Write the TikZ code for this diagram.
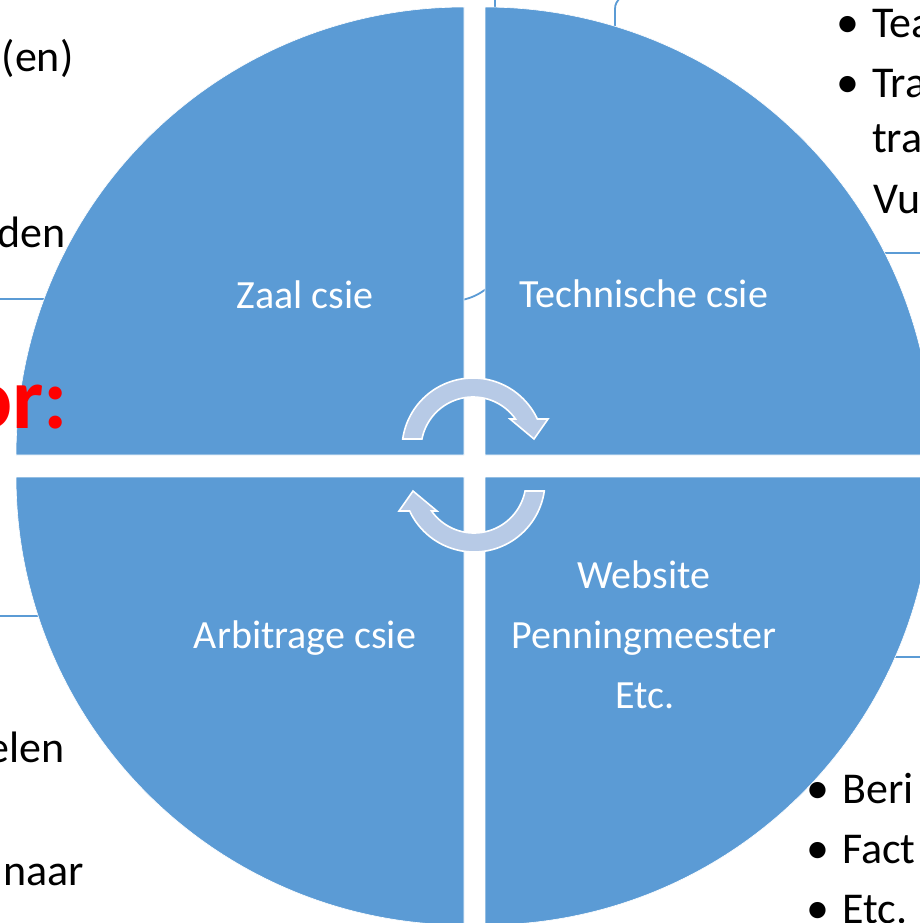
\documentclass[tikz,border=0pt]{standalone}
\usepackage{fontspec}
\setmainfont{Carlito}
\definecolor{quad}{HTML}{5B9BD5}
\definecolor{arrowfill}{HTML}{B7CAE6}
\tikzset{
  quadrant/.style={fill=quad, draw=white, line width=0.6pt},
  bgline/.style={draw=quad, line width=1.8pt},
  cycarrow/.style={fill=arrowfill, draw=white, line width=1.6pt, line join=miter},
  lbl/.style={text=white, font=\fontsize{40}{48}\selectfont, inner sep=0pt, anchor=base},
  txt/.style={text=black, font=\fontsize{44}{53}\selectfont, inner sep=0pt, anchor=base west},
  bul/.style={text=black, font=\fontsize{46}{53}\selectfont, inner sep=0pt, anchor=base},
  redtxt/.style={text=red, font=\fontsize{88}{100}\selectfont\bfseries, inner sep=0pt, anchor=base west}
}
\begin{document}
\begin{tikzpicture}[x=1pt,y=-1pt]
\useasboundingbox (0,0) rectangle (920,923);
\clip (0,0) rectangle (920,923);
\fill[white] (0,0) rectangle (920,923);

% background connector remnants
\coordinate (l1a) at (-5,299); \coordinate (l1b) at (60,299);
\coordinate (l2a) at (-5,616); \coordinate (l2b) at (60,616);
\coordinate (r1a) at (860,253); \coordinate (r1b) at (925,253);
\coordinate (r2a) at (870,657); \coordinate (r2b) at (925,657);
\draw[bgline] (l1a) -- (l1b);
\draw[bgline] (l2a) -- (l2b);
\draw[bgline] (r1a) -- (r1b);
\draw[bgline] (r2a) -- (r2b);
\draw[bgline] (615,40) -- (615,9) .. controls (615,4) and (617,1) .. (621,-3);
\draw[bgline] (495,-3) -- (495,12);
\draw[bgline] (462,300) .. controls (471,298) and (478,295) .. (486,289);

% quadrants
\path[quadrant] (464,455) -- plot[domain=180:270,samples=90] ({464+448*cos(\x)},{455+448*sin(\x)}) -- cycle;
\path[quadrant] (485,455) -- plot[domain=270:360,samples=90] ({485+448*cos(\x)},{455+448*sin(\x)}) -- cycle;
\path[quadrant] (485,477) -- plot[domain=0:90,samples=90] ({485+448*cos(\x)},{477+448*sin(\x)}) -- cycle;
\path[quadrant] (464,477) -- plot[domain=90:180,samples=90] ({464+448*cos(\x)},{477+448*sin(\x)}) -- cycle;

% circular arrows
\path[cycarrow] plot[domain=188.1:335,samples=60] ({473+71*cos(\x)},{449+71*sin(\x)})
  -- (548,419) -- (534,439) -- (510,419)
  -- plot[domain=324.8:191.1,samples=60] ({473+52*cos(\x)},{449+52*sin(\x)}) -- cycle;
\path[cycarrow, rotate around={180:(473.5,465)}] plot[domain=188.1:335,samples=60] ({473+71*cos(\x)},{449+71*sin(\x)})
  -- (548,419) -- (534,439) -- (510,419)
  -- plot[domain=324.8:191.1,samples=60] ({473+52*cos(\x)},{449+52*sin(\x)}) -- cycle;

% quadrant labels
\node[lbl] (zaal) at (305,308) {Zaal csie};
\node[lbl] (tech) at (644,307) {Technische csie};
\node[lbl] (arb) at (305,648) {Arbitrage csie};
\node[lbl] (web) at (644,588) {Website};
\node[lbl] (pen) at (644,648) {Penningmeester};
\node[lbl] (etc) at (645,708) {Etc.};

% left texts
\node[txt] (t1) at (1.5,72) {(en)};
\node[txt] (t2) at (-3,247) {den};
\node[redtxt] (t3) at (-35,428) {or:};
\node[txt] (t4) at (-13,762) {elen};
\node[txt] (t5) at (3,885) {naar};

% right top texts
\node[bul] (b1) at (848,38) {\textbullet};
\node[txt] (r1) at (872,38) {Tea};
\node[bul] (b2) at (848,98) {\textbullet};
\node[txt] (r2) at (872,98) {Tra};
\node[txt] (r3) at (872,152) {tra};
\node[txt] (r4) at (873,213) {Vu};

% right bottom texts
\node[bul] (b3) at (818,803) {\textbullet};
\node[txt] (s1) at (842,803) {Beri};
\node[bul] (b4) at (818,863) {\textbullet};
\node[txt] (s2) at (842,863) {Fact};
\node[bul] (b5) at (818,923) {\textbullet};
\node[txt] (s3) at (842,923) {Etc.};
\end{tikzpicture}
\end{document}
